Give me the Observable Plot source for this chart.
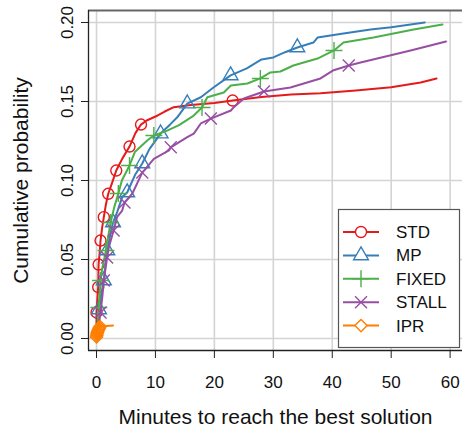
<!DOCTYPE html>
<html>
<head>
<meta charset="utf-8">
<script src="https://cdn.jsdelivr.net/npm/d3@7"></script>
<script src="https://cdn.jsdelivr.net/npm/@observablehq/plot@0.6"></script>
<style>
  html, body { margin: 0; padding: 0; background: #fff; }
  #chart { width: 462px; height: 428px; }
  svg { font-family: "Liberation Sans", Arial, Helvetica, sans-serif; }
</style>
</head>
<body>
<div id="chart"></div>
<script>
// ---------- data ----------
const seriesNames = ["STD", "MP", "FIXED", "STALL", "IPR"];
const seriesColors = ["#E41A1C", "#377EB8", "#4DAF4A", "#984EA3", "#FF7F00"];
const seriesSymbols = ["circle", "triangle", "plus", "times", "diamond2"];

const xTicks = [0, 10, 20, 30, 40, 50, 60];
const yTicks = [0, 0.05, 0.10, 0.15, 0.20];
const xDomain = [-1.36, 62.1];
const yDomain = [-0.0076, 0.2076];
const xTitle = "Minutes to reach the best solution";
const yTitle = "Cumulative probability";

// STD
const stdX = [0, 0, 0.2, 0.29, 0.35, 0.55, 0.68, 0.95, 1.24, 1.6, 1.99, 2.6, 3.35, 4.4, 5.6, 6.6, 7.55, 8.5, 10.3, 11.5, 13.1, 16, 20, 23.1, 28, 33, 38, 44, 50, 55, 57.7];
const stdY = [0.002, 0.0165, 0.028, 0.0325, 0.0468, 0.055, 0.062, 0.07, 0.0768, 0.085, 0.0916, 0.098, 0.1063, 0.114, 0.1215, 0.13, 0.1354, 0.138, 0.141, 0.1435, 0.1464, 0.1478, 0.149, 0.1506, 0.1528, 0.1545, 0.1552, 0.157, 0.159, 0.162, 0.1646];
const stdMX = [0, 0.29, 0.35, 0.68, 1.24, 1.99, 3.35, 5.6, 7.55, 23.1];
const stdMY = [0.0165, 0.0325, 0.0468, 0.062, 0.0768, 0.0916, 0.1063, 0.1215, 0.1354, 0.1506];

// MP
const mpX = [0, 0.2, 0.42, 0.8, 1.24, 1.5, 1.82, 2.3, 2.8, 3.5, 4.36, 5.2, 6.6, 7.76, 9, 10.87, 12.5, 13.7, 15.4, 17.7, 19.9, 22.75, 25.5, 28, 30, 32, 34.07, 36.8, 37.5, 41.9, 46.5, 50, 53.3, 55.7];
const mpY = [0, 0.008, 0.0184, 0.028, 0.0367, 0.046, 0.0557, 0.065, 0.0734, 0.08, 0.0895, 0.0924, 0.104, 0.1108, 0.12, 0.1297, 0.1355, 0.14, 0.1487, 0.1527, 0.159, 0.1665, 0.171, 0.1766, 0.1779, 0.1812, 0.1842, 0.1873, 0.1905, 0.193, 0.1956, 0.197, 0.1987, 0.2];
const mpMX = [0.42, 1.24, 1.82, 2.8, 5.2, 7.76, 10.87, 15.4, 22.75, 34.07];
const mpMY = [0.0184, 0.0367, 0.0557, 0.0734, 0.0924, 0.1108, 0.1297, 0.1487, 0.1665, 0.1842];

// FIXED
const fixX = [0, 0.2, 0.39, 0.68, 1.0, 1.6, 2.0, 2.4, 3.0, 3.7, 4.3, 5.6, 6.5, 8.6, 9.73, 12, 14, 16.5, 17.9, 18.8, 21.6, 22.8, 25.6, 27.8, 29.5, 31.2, 33.4, 37.5, 40.3, 41.9, 47, 53.8, 58.7];
const fixY = [0, 0.01, 0.0196, 0.0367, 0.045, 0.0557, 0.065, 0.0734, 0.083, 0.0918, 0.1, 0.1095, 0.118, 0.1253, 0.1285, 0.1316, 0.135, 0.1411, 0.1462, 0.1527, 0.1557, 0.1601, 0.1614, 0.1646, 0.1684, 0.169, 0.1728, 0.1772, 0.1823, 0.1873, 0.1905, 0.1956, 0.1987];
const fixMX = [0.39, 0.68, 1.6, 2.4, 3.7, 5.6, 9.73, 17.9, 27.8, 40.3];
const fixMY = [0.0196, 0.0367, 0.0557, 0.0734, 0.0918, 0.1095, 0.1285, 0.1462, 0.1646, 0.1823];

// STALL
const stallX = [0, 0.3, 0.68, 1.0, 1.24, 1.8, 2.09, 2.9, 3.5, 4.36, 4.75, 6.06, 7.76, 9.73, 12.3, 12.6, 15.4, 16.5, 17.7, 19.4, 22.8, 23.3, 25, 28.4, 32.9, 38, 40.1, 42.8, 44.8, 53.3, 59.3];
const stallY = [0, 0.006, 0.0165, 0.027, 0.0367, 0.0513, 0.0578, 0.0684, 0.077, 0.081, 0.0861, 0.0916, 0.105, 0.1137, 0.119, 0.121, 0.1274, 0.1297, 0.1361, 0.1392, 0.1443, 0.1464, 0.1519, 0.1563, 0.1589, 0.1646, 0.1696, 0.1728, 0.1747, 0.1823, 0.188];
const stallMX = [0.68, 1.24, 1.8, 2.9, 4.75, 7.76, 12.6, 19.4, 28.4, 42.8];
const stallMY = [0.0165, 0.0367, 0.0513, 0.0684, 0.0861, 0.105, 0.121, 0.1392, 0.1563, 0.1728];

// IPR
const iprX = [0, 0.05, 0.1, 0.15, 0.2, 0.3, 0.4, 0.5, 0.6, 2.8];
const iprY = [0.001, 0.002, 0.003, 0.0038, 0.0045, 0.0053, 0.006, 0.0068, 0.0076, 0.0082];
const iprMX = [0, 0.05, 0.1, 0.15, 0.2, 0.3, 0.4, 0.5, 0.6];
const iprMY = [0.001, 0.002, 0.003, 0.0038, 0.0045, 0.0053, 0.006, 0.0068, 0.0076];

// ---------- build ----------
const lineData = [[stdX, stdY], [mpX, mpY], [fixX, fixY], [stallX, stallY], [iprX, iprY]];
const markData = [[stdMX, stdMY], [mpMX, mpMY], [fixMX, fixMY], [stallMX, stallMY], [iprMX, iprMY]];
const toRows = ([xs, ys]) => xs.map((x, i) => ({x, y: ys[i]}));

const FONT = "\"Liberation Sans\", Arial, Helvetica, sans-serif";
const R = 5.5;

const seriesMarks = [];
seriesNames.forEach((name, k) => {
  seriesMarks.push(Plot.line(toRows(lineData[k]), {x: "x", y: "y", stroke: seriesColors[k], strokeWidth: 2}));
  seriesMarks.push(Plot.dot(toRows(markData[k]), {x: "x", y: "y", stroke: seriesColors[k], fill: "none", symbol: seriesSymbols[k], r: R, strokeWidth: 1.4}));
});

const chart = Plot.plot({
  width: 462,
  height: 428,
  marginTop: 10,
  marginBottom: 78,
  marginLeft: 88,
  marginRight: 0,
  style: {fontFamily: FONT, background: "#fff"},
  x: {domain: xDomain, axis: null},
  y: {domain: yDomain, axis: null},
  marks: [
    Plot.gridX(xTicks, {stroke: "#d4d4d4", strokeOpacity: 1, strokeWidth: 1.6}),
    Plot.gridY(yTicks, {stroke: "#d4d4d4", strokeOpacity: 1, strokeWidth: 1.6}),
    Plot.ruleY([yDomain[1]], {stroke: "#666", strokeWidth: 2}),
    ...seriesMarks,
    Plot.ruleX([xDomain[0]], {stroke: "#222", strokeWidth: 1.3}),
    Plot.ruleY([yDomain[0]], {stroke: "#222", strokeWidth: 1.3}),
    Plot.axisX(xTicks, {tickSize: 8, tickPadding: 17, fontSize: 17, label: null, tickFormat: (d) => String(d), stroke: "#222", fill: "#111"}),
    Plot.axisY(yTicks, {tickSize: 7, tickFormat: () => "", label: null, stroke: "#222"}),
    Plot.text(yTicks, {x: () => xDomain[0], y: (d) => d, text: (d) => d.toFixed(2), rotate: -90, dx: -16, lineAnchor: "bottom", textAnchor: "middle", fontSize: 17, fill: "#111"}),
    Plot.text([xTitle], {frameAnchor: "bottom", dy: 73, lineAnchor: "bottom", textAnchor: "middle", fontSize: 21, fill: "#111"}),
    Plot.text([yTitle], {frameAnchor: "left", rotate: -90, dx: -61, lineAnchor: "bottom", textAnchor: "middle", fontSize: 21, fill: "#111"})
  ]
});

document.getElementById("chart").appendChild(chart);

// ---------- legend ----------
const svg = d3.select(chart);
const lg = svg.append("g").attr("font-family", FONT).attr("font-size", 17).attr("text-anchor", "start");
lg.append("rect").attr("x", 338.5).attr("y", 209.5).attr("width", 121).attr("height", 138)
  .attr("fill", "#fff").attr("stroke", "#555").attr("stroke-width", 1.2);
const symMap = {circle: d3.symbolCircle, triangle: d3.symbolTriangle, plus: d3.symbolPlus, times: d3.symbolTimes, diamond2: d3.symbolDiamond2};
seriesNames.forEach((name, k) => {
  const yy = 232 + k * 23.4;
  const g = lg.append("g");
  g.append("line").attr("x1", 343).attr("x2", 379).attr("y1", yy).attr("y2", yy)
    .attr("stroke", seriesColors[k]).attr("stroke-width", 2);
  g.append("path").attr("d", d3.symbol(symMap[seriesSymbols[k]], Math.PI * R * R)())
    .attr("transform", `translate(361,${yy})`).attr("fill", "#fff").attr("stroke", seriesColors[k]).attr("stroke-width", 1.4);
  g.append("text").attr("x", 396).attr("y", yy + 6).attr("fill", "#111").attr("text-anchor", "start").text(name);
});
</script>
</body>
</html>
